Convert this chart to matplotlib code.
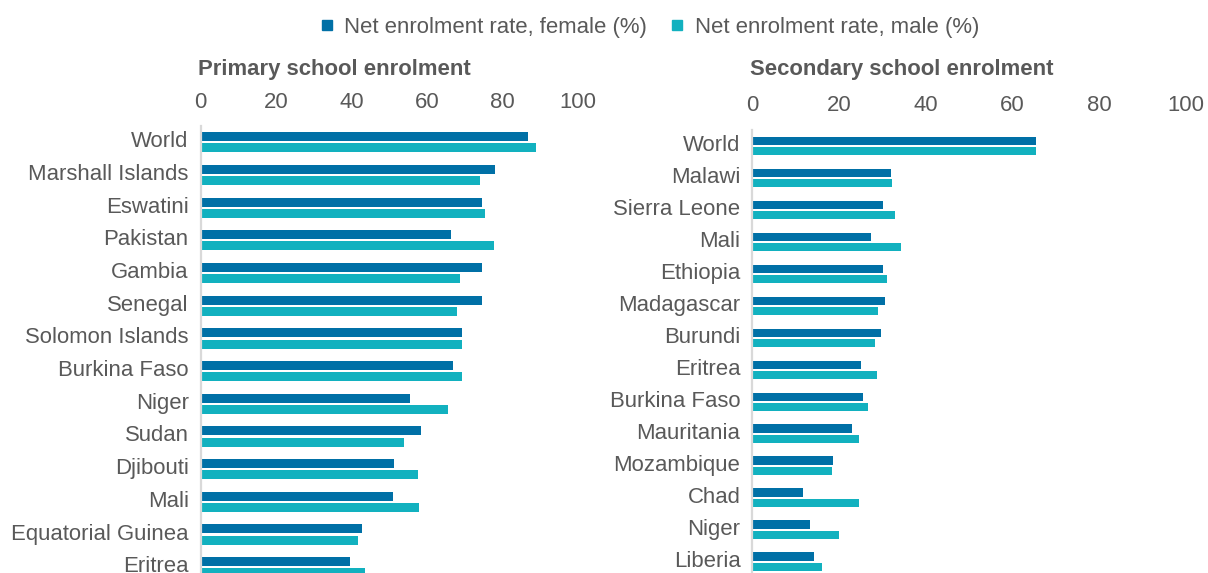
import matplotlib
matplotlib.use("Agg")
import matplotlib.pyplot as plt
from matplotlib.lines import Line2D
import numpy as np

plt.rcParams["font.family"] = ["Liberation Sans", "DejaVu Sans"]

# ---- Daten ----------------------------------------------------------
primary_countries = ["World", "Marshall Islands", "Eswatini", "Pakistan", "Gambia",
                     "Senegal", "Solomon Islands", "Burkina Faso", "Niger", "Sudan",
                     "Djibouti", "Mali", "Equatorial Guinea", "Eritrea"]
primary_female = [86.8, 78.0, 74.5, 66.3, 74.7, 74.5, 69.2, 66.9, 55.5, 58.5,
                  51.3, 51.1, 42.8, 39.5]
primary_male = [88.9, 74.0, 75.3, 77.7, 68.7, 67.9, 69.2, 69.2, 65.6, 53.9,
                57.7, 57.9, 41.8, 43.5]

secondary_countries = ["World", "Malawi", "Sierra Leone", "Mali", "Ethiopia",
                       "Madagascar", "Burundi", "Eritrea", "Burkina Faso",
                       "Mauritania", "Mozambique", "Chad", "Niger", "Liberia"]
secondary_female = [65.4, 31.9, 30.1, 27.3, 30.1, 30.5, 29.6, 25.0, 25.4, 22.9,
                    18.6, 11.7, 13.3, 14.2]
secondary_male = [65.4, 32.1, 32.9, 34.2, 31.0, 28.9, 28.2, 28.7, 26.6, 24.6,
                  18.3, 24.6, 19.9, 16.1]

series_labels = ["Net enrolment rate, female (%)", "Net enrolment rate, male (%)"]
x_ticks = [0, 20, 40, 60, 80, 100]
# ----------------------------------------------------------------------

C_FEMALE = "#0070A6"
C_MALE = "#12B1BF"
C_TEXT = "#595959"
FS = 15.9

W, H = 1208, 573
fig = plt.figure(figsize=(W / 100, H / 100), dpi=100)


def panel(rect, countries, female, male, title, bottom_row, offset, bh, tick_pad):
    ax = fig.add_axes(rect)
    y = np.arange(len(countries))
    ax.barh(y - offset, female, height=bh, color=C_FEMALE)
    ax.barh(y + offset, male, height=bh, color=C_MALE)
    ax.set_ylim(bottom_row, -0.5)
    ax.set_xlim(0, 100)
    # Beschriftung sitzt im Original etwas oberhalb der Balkenmitte
    ax.set_yticks(y - 0.09)
    ax.set_yticklabels(countries)
    ax.set_xticks(x_ticks)
    ax.xaxis.tick_top()
    ax.tick_params(axis="both", length=0, labelsize=FS, colors=C_TEXT)
    ax.tick_params(axis="y", pad=8.5)
    ax.tick_params(axis="x", pad=tick_pad)
    for s in ("top", "right", "bottom"):
        ax.spines[s].set_visible(False)
    ax.spines["left"].set_color("#D9D9D9")
    ax.spines["left"].set_linewidth(1.6)
    x0 = rect[0]
    fig.text(x0 - 2 / W, 1 - 70 / H, title, fontsize=FS, fontweight="bold",
             color=C_TEXT, ha="left", va="center")
    return ax


panel([200.5 / W, 0, 377.5 / W, (H - 126) / H], primary_countries,
      primary_female, primary_male, "Primary school enrolment",
      13.18, 0.172, 0.275, 9.5)
panel([752.3 / W, 0, 434 / W, (H - 130) / H], secondary_countries,
      secondary_female, secondary_male, "Secondary school enrolment",
      13.35, 0.163, 0.26, 10.2)

handles = [Line2D([], [], marker="s", ls="", ms=7.5, color=c, mec=c)
           for c in (C_FEMALE, C_MALE)]
leg = fig.legend(handles, series_labels, loc="center", ncol=2,
                 bbox_to_anchor=(650 / W, 1 - 27 / H), frameon=False,
                 fontsize=FS, handlelength=0.5, handletextpad=0.55,
                 columnspacing=1.1, borderaxespad=0)
for t in leg.get_texts():
    t.set_color(C_TEXT)

fig.savefig("out.png", dpi=100)
